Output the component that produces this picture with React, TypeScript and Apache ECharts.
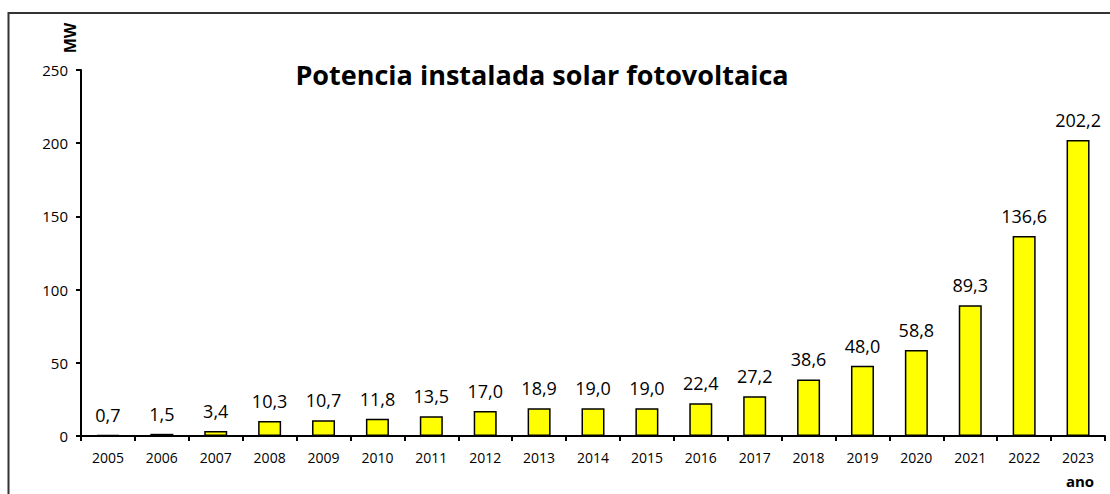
import React, { useEffect, useRef } from "react";
import * as echarts from "echarts";

const years = ["2005","2006","2007","2008","2009","2010","2011","2012","2013","2014","2015","2016","2017","2018","2019","2020","2021","2022","2023"];
const powerMW = [0.7,1.5,3.4,10.3,10.7,11.8,13.5,17.0,18.9,19.0,19.0,22.4,27.2,38.6,48.0,58.8,89.3,136.6,202.2];
const yTicks = { min: 0, max: 250, interval: 50 };
const titleText = "Potencia instalada solar fotovoltaica";
const yUnit = "MW";
const xUnit = "ano";

const FONT = "'Open Sans', 'Noto Sans', sans-serif";

export default function App() {
  const ref = useRef<HTMLDivElement>(null);
  useEffect(() => {
    document.body.style.margin = "0";
    document.body.style.overflow = "hidden";
    const chart = echarts.init(ref.current!, null, { renderer: "svg" });
    chart.setOption({
      animation: false,
      backgroundColor: "#ffffff",
      textStyle: { fontFamily: FONT },
      grid: { left: 81, right: 5, top: 70, bottom: 58 },
      graphic: [
        {
          type: "rect",
          shape: { x: 8.5, y: 13, width: 1200, height: 600 },
          style: { fill: "none", stroke: "#333", lineWidth: 2 },
          silent: true,
        },
        {
          type: "text",
          x: 542,
          y: 74,
          style: {
            text: titleText,
            font: `bold 27px ${FONT}`,
            fill: "#000",
            textAlign: "center",
            textVerticalAlign: "middle",
          },
        },
        {
          type: "text",
          x: 70,
          y: 38,
          rotation: Math.PI / 2,
          style: {
            text: yUnit,
            font: `bold 16px ${FONT}`,
            fill: "#000",
            textAlign: "center",
            textVerticalAlign: "middle",
          },
        },
        {
          type: "text",
          x: 1080,
          y: 481,
          style: {
            text: xUnit,
            font: `bold 15px ${FONT}`,
            fill: "#000",
            textAlign: "center",
            textVerticalAlign: "middle",
          },
        },
      ],
      xAxis: {
        type: "category",
        data: years,
        axisLine: { lineStyle: { color: "#000", width: 2 } },
        axisTick: { show: true, length: 5, lineStyle: { color: "#000", width: 2 } },
        axisLabel: { color: "#000", fontSize: 14, margin: 14, fontFamily: FONT },
      },
      yAxis: {
        type: "value",
        min: yTicks.min,
        max: yTicks.max,
        interval: yTicks.interval,
        splitLine: { show: false },
        axisLine: { show: true, lineStyle: { color: "#000", width: 2 } },
        axisTick: { show: true, length: 5, lineStyle: { color: "#000", width: 2 } },
        axisLabel: { color: "#000", fontSize: 15, margin: 13, fontFamily: FONT },
      },
      series: [
        {
          type: "bar",
          data: powerMW,
          barWidth: 23,
          itemStyle: { color: "#ffff00", borderColor: "#000", borderWidth: 1.5 },
          label: {
            show: true,
            position: "top",
            distance: 11,
            color: "#000",
            fontSize: 18,
            fontFamily: FONT,
            formatter: (p: any) => Number(p.value).toFixed(1).replace(".", ","),
          },
        },
      ],
    });
    return () => chart.dispose();
  }, []);
  return <div ref={ref} style={{ width: 1110, height: 494 }} />;
}
